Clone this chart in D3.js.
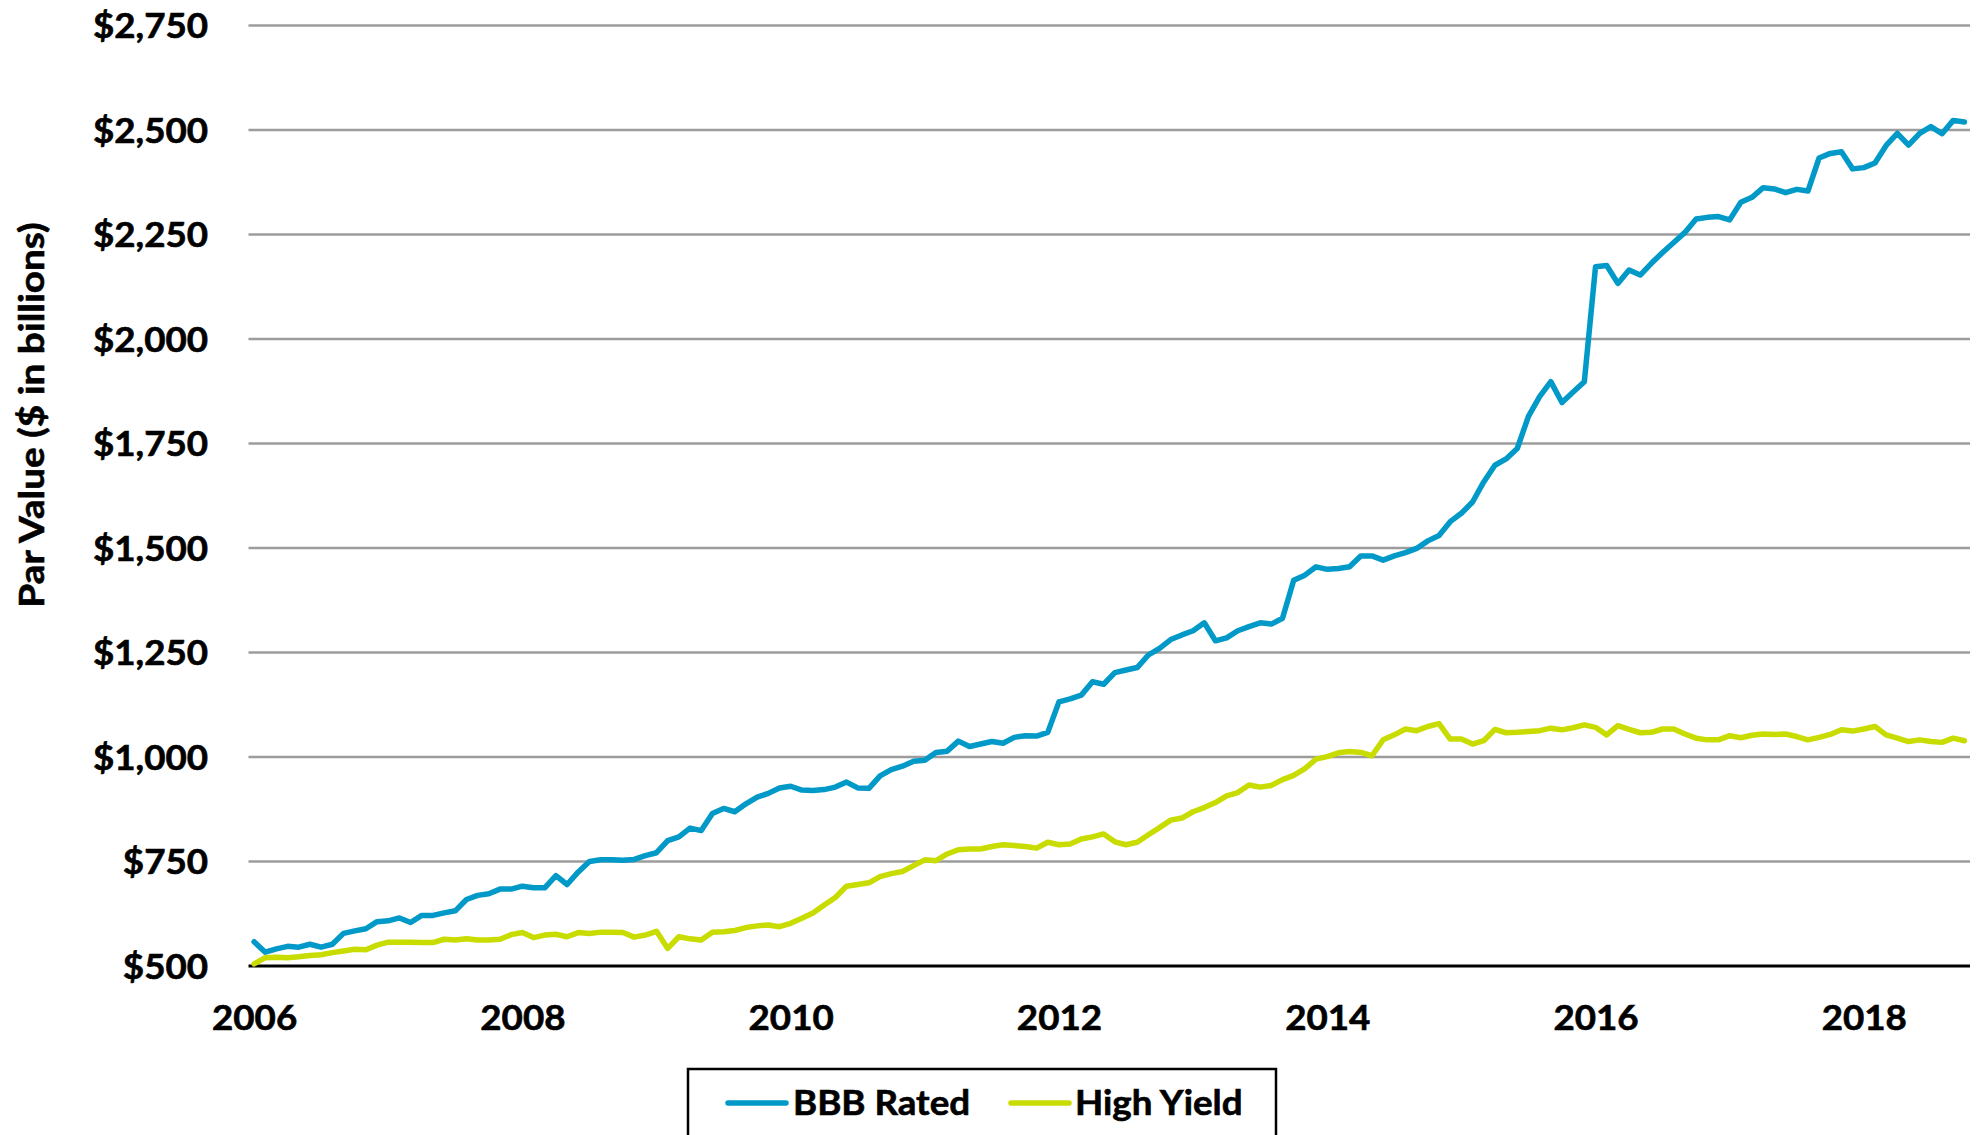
<!DOCTYPE html>
<html>
<head>
<meta charset="utf-8">
<script src="https://cdn.jsdelivr.net/npm/d3@7"></script>
<style>
  html, body { margin: 0; padding: 0; background: #fff; }
  svg { display: block; }
  text { font-family: Lato, "Open Sans", "Liberation Sans", sans-serif; font-weight: 700; fill: #000; stroke: #000; stroke-width: 0.6px; }
</style>
</head>
<body>
<svg id="chart" width="1980" height="1135"></svg>
<script>
// Monthly par value outstanding, $ billions, Jan 2006 – Oct 2018
const firstMonth = [2006, 0];   // year, month index
const bbbRated = [
  558, 533, 541, 547, 545, 552, 545, 552, 578, 584, 589, 606,
  608, 615, 604, 621, 621, 627, 632, 659, 669, 673, 684, 684,
  691, 687, 687, 716, 695, 725, 750, 754, 754, 753, 755, 764,
  771, 800, 809, 830, 824, 865, 877, 869, 888, 904, 913, 926,
  930, 921, 920, 922, 928, 940, 926, 925, 955, 970, 978, 990,
  992, 1011, 1014, 1038, 1025, 1031, 1037, 1033, 1047, 1051, 1050, 1059,
  1132, 1139, 1148, 1180, 1174, 1202, 1208, 1214, 1244, 1260, 1281, 1292,
  1302, 1321, 1278, 1285, 1302, 1312, 1321, 1318, 1332, 1423, 1435, 1455,
  1449, 1451, 1455, 1481, 1481, 1471, 1481, 1489, 1499, 1517, 1530, 1563,
  1583, 1610, 1658, 1698, 1713, 1738, 1815, 1862, 1898, 1848, 1873, 1898,
  2173, 2176, 2133, 2165, 2153, 2181, 2207, 2231, 2255, 2287, 2291, 2293,
  2285, 2327, 2339, 2362, 2359, 2350, 2358, 2354, 2433, 2444, 2448, 2407,
  2410, 2421, 2463, 2492, 2464, 2492, 2508, 2491, 2523, 2519
];
const highYield = [
  505, 520, 521, 520, 522, 525, 527, 532, 536, 540, 539, 550,
  557, 557, 557, 556, 556, 564, 562, 565, 562, 562, 564, 575,
  580, 568, 574, 576, 570, 580, 578, 581, 581, 580, 569, 574,
  583, 542, 570, 565, 562, 581, 582, 585, 592, 596, 598, 594,
  602, 614, 627, 646, 664, 691, 695, 699, 714, 721, 726, 740,
  754, 752, 768, 778, 780, 780, 786, 790, 788, 786, 782, 796,
  790, 792, 804, 809, 816, 797, 790, 796, 814, 831, 849, 854,
  869, 879, 891, 907, 915, 933, 928, 932, 946, 956, 972, 995,
  1001, 1010, 1013, 1011, 1003, 1041, 1053, 1067, 1063, 1073, 1080, 1043,
  1043, 1031, 1039, 1066, 1058, 1059, 1061, 1063, 1069, 1065, 1070, 1077,
  1071, 1053, 1075, 1066, 1058, 1059, 1067, 1067, 1055, 1045, 1041, 1041,
  1051, 1046, 1052, 1055, 1054, 1055, 1049, 1041, 1047, 1054, 1065, 1062,
  1067, 1073, 1053, 1045, 1037, 1041, 1037, 1035, 1045, 1039
];
const seriesNames = ["BBB Rated", "High Yield"];
const seriesColors = ["#0099c8", "#c8dc00"];
const yTicks = [500, 750, 1000, 1250, 1500, 1750, 2000, 2250, 2500, 2750];
const yearTicks = [2006, 2008, 2010, 2012, 2014, 2016, 2018];
const yTitle = "Par Value ($ in billions)";

const FONT = 34;
const WIDEN = 1.08;       // horizontal widening of the label glyphs
const svg = d3.select("#chart");

// monthly categories
const months = d3.range(bbbRated.length).map(i => new Date(firstMonth[0], firstMonth[1] + i, 1));

const x = d3.scalePoint()
  .domain(months.map(d => +d))
  .range([248.5, 1970])
  .padding(0.5);

const y = d3.scaleLinear()
  .domain([yTicks[0], yTicks[yTicks.length - 1]])
  .range([966, 25.5]);

// horizontal gridlines
svg.append("g")
  .selectAll("line")
  .data(yTicks.slice(1))
  .join("line")
  .attr("x1", 248.5).attr("x2", 1970)
  .attr("y1", d => y(d)).attr("y2", d => y(d))
  .attr("stroke", "#9c9c9c")
  .attr("stroke-width", 2.5);

// y axis labels
const yPad = 40.5;
const yAxis = d3.axisLeft(y)
  .tickValues(yTicks)
  .tickSize(0)
  .tickPadding(yPad)
  .tickFormat(d => "$" + d3.format(",")(d));
svg.append("g")
  .attr("transform", "translate(248.5,0)")
  .call(yAxis)
  .call(g => g.select(".domain").remove())
  .call(g => g.selectAll("text")
    .attr("x", -yPad / WIDEN)
    .attr("transform", `scale(${WIDEN},1)`)
    .attr("dy", "0.36em")
    .style("font-size", FONT + "px")
    .style("font-family", null));

// x axis
const tickDates = yearTicks.map(yr => +new Date(yr, 0, 1));
const xAxis = d3.axisBottom(x)
  .tickValues(tickDates)
  .tickSize(0)
  .tickPadding(40)
  .tickFormat(d => String(new Date(d).getFullYear()));
svg.append("g")
  .attr("transform", `translate(0,${y(yTicks[0])})`)
  .call(xAxis)
  .call(g => g.select(".domain")
    .attr("d", `M248.5,0H1970`)
    .attr("stroke", "#000")
    .attr("stroke-width", 3))
  .call(g => g.selectAll("text")
    .attr("transform", `scale(${WIDEN},1)`)
    .style("font-size", FONT + "px")
    .style("font-family", null));

// y axis title
svg.append("text")
  .attr("transform", "translate(32,415) rotate(-90) scale(1.14,1)")
  .attr("text-anchor", "middle")
  .attr("dy", "0.36em")
  .style("font-size", FONT + "px")
  .text(yTitle);

// series lines
const line = d3.line()
  .x((d, i) => x(+months[i]))
  .y(d => y(d));

[bbbRated, highYield].forEach((vals, k) => {
  svg.append("path")
    .datum(vals)
    .attr("d", line)
    .attr("fill", "none")
    .attr("stroke", seriesColors[k])
    .attr("stroke-width", 5.5)
    .attr("stroke-linejoin", "round")
    .attr("stroke-linecap", "round");
});

// legend
const legend = svg.append("g");
legend.append("rect")
  .attr("x", 688).attr("y", 1069)
  .attr("width", 588).attr("height", 120)
  .attr("fill", "#fff")
  .attr("stroke", "#000")
  .attr("stroke-width", 2.5);

const legendItems = [
  { x0: 728, x1: 786, tx: 793 },
  { x0: 1011, x1: 1069, tx: 1075 }
];
legendItems.forEach((it, k) => {
  legend.append("line")
    .attr("x1", it.x0).attr("x2", it.x1)
    .attr("y1", 1103).attr("y2", 1103)
    .attr("stroke", seriesColors[k])
    .attr("stroke-width", 5.5)
    .attr("stroke-linecap", "round");
  legend.append("text")
    .attr("transform", `translate(${it.tx},1103) scale(${WIDEN},1)`)
    .attr("dy", "0.36em")
    .style("font-size", FONT + "px")
    .text(seriesNames[k]);
});
</script>
</body>
</html>
